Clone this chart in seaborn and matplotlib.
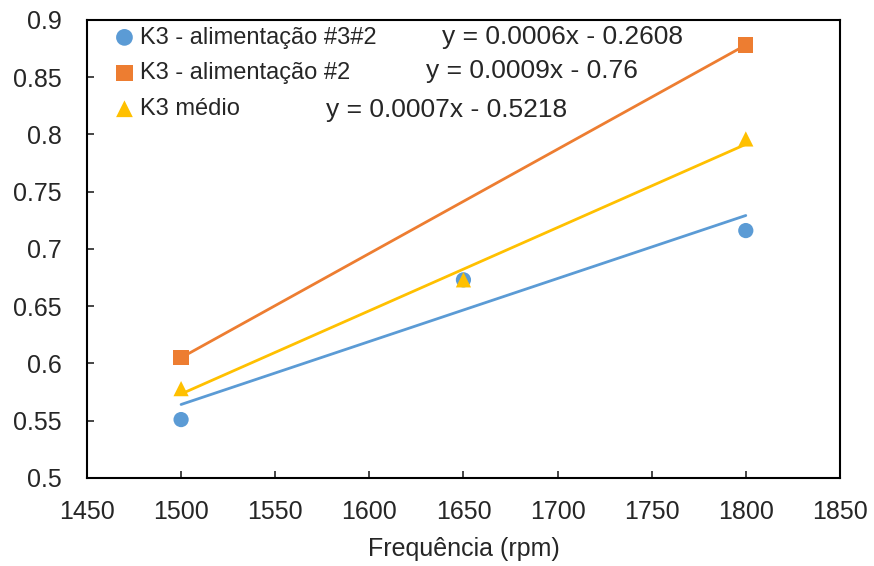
import numpy as np
import pandas as pd
import matplotlib
matplotlib.use("Agg")
import matplotlib.pyplot as plt
import seaborn as sns

# data
freq_a = [1500, 1650, 1800]
k3_a = [0.551, 0.673, 0.716]          # K3 - alimentação #3#2
freq_b = [1500, 1800]
k3_b = [0.605, 0.878]                 # K3 - alimentação #2
freq_c = [1500, 1650, 1800]
k3_c = [0.578, 0.673, 0.796]          # K3 médio

labels = ["K3 - alimentação #3#2", "K3 - alimentação #2", "K3 médio"]
equations = ["y = 0.0006x - 0.2608", "y = 0.0009x - 0.76", "y = 0.0007x - 0.5218"]
colors = ["#5B9BD5", "#ED7D31", "#FFC000"]
markers = ["o", "s", "^"]

sns.set_style("white")
plt.rcParams["font.family"] = ["Liberation Sans", "DejaVu Sans"]

fig, ax = plt.subplots(figsize=(8.74, 5.66), dpi=100)

series = [(freq_a, k3_a), (freq_b, k3_b), (freq_c, k3_c)]
for (x, y), lab, c, m in zip(series, labels, colors, markers):
    df = pd.DataFrame({"x": x, "y": y})
    # linear trendline from the points
    slope, icpt = np.polyfit(df["x"], df["y"], 1)
    xs = np.array([min(x), max(x)])
    ax.plot(xs, slope * xs + icpt, color=c, lw=2, zorder=2)
    sns.scatterplot(data=df, x="x", y="y", marker=m, color=c, s=120,
                    edgecolor="none", label=lab, ax=ax, zorder=3)

# trendline equations
eq_pos = [(0.632, 0.963), (0.591, 0.889), (0.477, 0.803)]
for (ex, ey), eq in zip(eq_pos, equations):
    ax.text(ex, ey, eq, transform=ax.transAxes, fontsize=19,
            ha="center", va="center")

ax.set_xlim(1450, 1850)
ax.set_ylim(0.5, 0.9)
ax.set_xticks(np.arange(1450, 1851, 50))
ax.set_yticks(np.arange(0.5, 0.901, 0.05))
ax.set_yticklabels(["0.5", "0.55", "0.6", "0.65", "0.7", "0.75", "0.8", "0.85", "0.9"])
ax.tick_params(axis="both", labelsize=18, direction="in", length=5, width=1.2,
               bottom=True, left=True, top=False, right=False)
ax.tick_params(axis="y", pad=18)
ax.tick_params(axis="x", pad=16)
ax.set_xlabel("Frequência (rpm)", fontsize=18, labelpad=9)
ax.set_ylabel("")
for s in ax.spines.values():
    s.set_color("black")
    s.set_linewidth(1.5)

leg = ax.legend(loc="upper left", frameon=False, fontsize=17,
                handlelength=0.9, handletextpad=0.2, borderaxespad=0.1,
                labelspacing=0.58, markerscale=1.1, bbox_to_anchor=(0.02, 1.011))

fig.subplots_adjust(left=0.0995, right=0.961, top=0.965, bottom=0.1555)
fig.savefig("out.png", dpi=100)
